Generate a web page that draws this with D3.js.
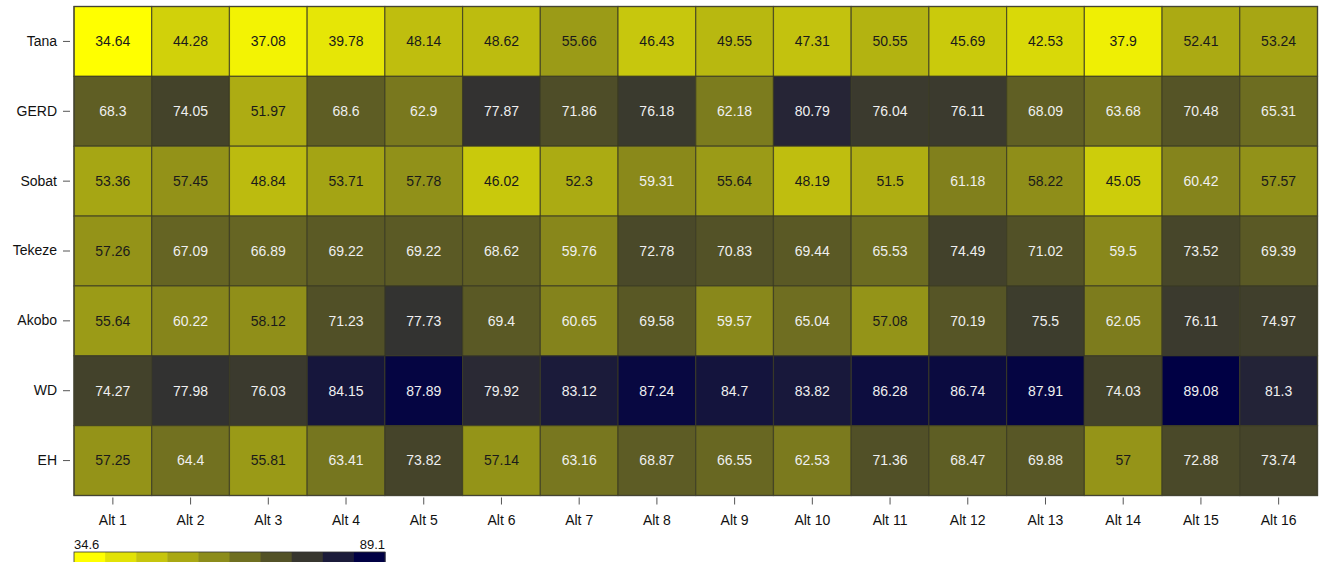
<!DOCTYPE html>
<html>
<head>
<meta charset="utf-8">
<script src="https://cdn.jsdelivr.net/npm/d3@7"></script>
<style>
  html, body { margin: 0; padding: 0; background: #fff; }
  svg { display: block; font-family: "Liberation Sans", Arial, sans-serif; }
</style>
</head>
<body>
<svg id="chart" width="1319" height="562"></svg>
<script>
// Basins (rows) and alternatives (columns)
const basins = ["Tana", "GERD", "Sobat", "Tekeze", "Akobo", "WD", "EH"];
const alternatives = ["Alt 1", "Alt 2", "Alt 3", "Alt 4", "Alt 5", "Alt 6", "Alt 7", "Alt 8",
                      "Alt 9", "Alt 10", "Alt 11", "Alt 12", "Alt 13", "Alt 14", "Alt 15", "Alt 16"];

// One array of values per basin, in alternative order
const tana   = [34.64, 44.28, 37.08, 39.78, 48.14, 48.62, 55.66, 46.43, 49.55, 47.31, 50.55, 45.69, 42.53, 37.9, 52.41, 53.24];
const gerd   = [68.3, 74.05, 51.97, 68.6, 62.9, 77.87, 71.86, 76.18, 62.18, 80.79, 76.04, 76.11, 68.09, 63.68, 70.48, 65.31];
const sobat  = [53.36, 57.45, 48.84, 53.71, 57.78, 46.02, 52.3, 59.31, 55.64, 48.19, 51.5, 61.18, 58.22, 45.05, 60.42, 57.57];
const tekeze = [57.26, 67.09, 66.89, 69.22, 69.22, 68.62, 59.76, 72.78, 70.83, 69.44, 65.53, 74.49, 71.02, 59.5, 73.52, 69.39];
const akobo  = [55.64, 60.22, 58.12, 71.23, 77.73, 69.4, 60.65, 69.58, 59.57, 65.04, 57.08, 70.19, 75.5, 62.05, 76.11, 74.97];
const wd     = [74.27, 77.98, 76.03, 84.15, 87.89, 79.92, 83.12, 87.24, 84.7, 83.82, 86.28, 86.74, 87.91, 74.03, 89.08, 81.3];
const eh     = [57.25, 64.4, 55.81, 63.41, 73.82, 57.14, 63.16, 68.87, 66.55, 62.53, 71.36, 68.47, 69.88, 57, 72.88, 73.74];
const rows = [tana, gerd, sobat, tekeze, akobo, wd, eh];

// Colour key limits and number of key swatches
const keyMin = 34.6, keyMax = 89.1;
const keyLabels = ["34.6", "89.1"];
const keySteps = 10;

const cells = [];
rows.forEach((vals, r) => vals.forEach((v, c) => cells.push({ basin: basins[r], alt: alternatives[c], value: v })));

const svg = d3.select("#chart");
const plot = { left: 74, right: 1317.5, top: 6.5, bottom: 495.5 };

const x = d3.scaleBand().domain(alternatives).range([plot.left, plot.right]).padding(0);
const y = d3.scaleBand().domain(basins).range([plot.top, plot.bottom]).padding(0);

// yellow -> dark olive/grey -> navy
const color = d3.scaleLinear()
  .domain([keyMin, keyMin + (keyMax - keyMin) * 0.72, keyMax])
  .range(["#ffff00", "#45442a", "#000044"])
  .interpolate(d3.interpolateRgb);

// Cells
svg.append("g").selectAll("rect")
  .data(cells)
  .join("rect")
  .attr("x", d => x(d.alt))
  .attr("y", d => y(d.basin))
  .attr("width", x.bandwidth())
  .attr("height", y.bandwidth())
  .attr("fill", d => color(d.value))
  .attr("stroke", "#3a3a22")
  .attr("stroke-opacity", 0.75)
  .attr("stroke-width", 1.2);

// Cell values
svg.append("g").selectAll("text")
  .data(cells)
  .join("text")
  .attr("x", d => x(d.alt) + x.bandwidth() / 2)
  .attr("y", d => y(d.basin) + y.bandwidth() / 2)
  .attr("dy", "0.35em")
  .attr("text-anchor", "middle")
  .attr("font-size", 14)
  .attr("fill", d => d.value > 59 ? "#efefef" : "#1a1a1a")
  .text(d => d.value);

// Outer frame
svg.append("rect")
  .attr("x", plot.left).attr("y", plot.top)
  .attr("width", plot.right - plot.left).attr("height", plot.bottom - plot.top)
  .attr("fill", "none").attr("stroke", "#444433").attr("stroke-width", 1.2);

// Axes
const yAxis = d3.axisLeft(y).tickSize(7).tickPadding(6);
const gy = svg.append("g").attr("transform", `translate(${plot.left - 4},0)`).call(yAxis);
gy.select(".domain").remove();
gy.selectAll(".tick line").attr("stroke", "#555");
gy.selectAll(".tick text").attr("font-size", 14).attr("fill", "#111").attr("font-family", "Liberation Sans, Arial, sans-serif");

const xAxis = d3.axisBottom(x).tickSize(7).tickPadding(11);
const gx = svg.append("g").attr("transform", `translate(0,${plot.bottom + 2})`).call(xAxis);
gx.select(".domain").remove();
gx.selectAll(".tick line").attr("stroke", "#555");
gx.selectAll(".tick text").attr("font-size", 14).attr("fill", "#111").attr("font-family", "Liberation Sans, Arial, sans-serif");

// Colour key
const keyScale = d3.scaleBand().domain(d3.range(keySteps)).range([74, 385]).padding(0);
const key = svg.append("g");
key.selectAll("rect")
  .data(d3.range(keySteps))
  .join("rect")
  .attr("x", i => keyScale(i))
  .attr("y", 552)
  .attr("width", keyScale.bandwidth() + 0.5)
  .attr("height", 14)
  .attr("fill", i => color(keyMin + (keyMax - keyMin) * i / (keySteps - 1)));
key.append("rect")
  .attr("x", 74).attr("y", 552).attr("width", 311).attr("height", 14)
  .attr("fill", "none").attr("stroke", "#333").attr("stroke-width", 0.8);
key.append("text").attr("x", 74).attr("y", 549).attr("font-size", 13).attr("fill", "#111").text(keyLabels[0]);
key.append("text").attr("x", 385).attr("y", 549).attr("font-size", 13).attr("fill", "#111")
  .attr("text-anchor", "end").text(keyLabels[1]);
</script>
</body>
</html>
